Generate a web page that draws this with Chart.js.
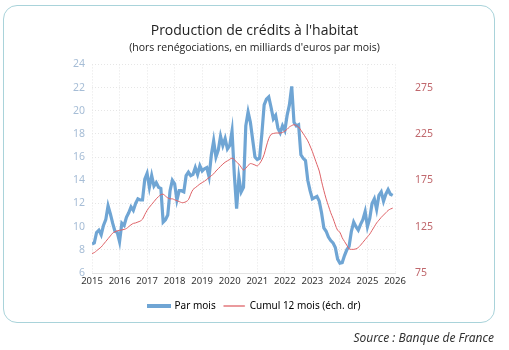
<!DOCTYPE html>
<html><head><meta charset="utf-8">
<script src="https://cdn.jsdelivr.net/npm/chart.js@4/dist/chart.umd.min.js"></script>
<style>
html,body{margin:0;padding:0;background:#fff;width:509px;height:350px;overflow:hidden;}
#card{position:absolute;left:3px;top:5px;width:490px;height:316px;border:1.5px solid #a9d3da;border-radius:14px;}
#wrap{position:absolute;left:0;top:0;width:509px;height:350px;}
#src{position:absolute;right:15px;top:329px;font-family:"Noto Sans",sans-serif;font-style:italic;font-size:12px;color:#333;}
</style></head><body>
<div id="card"></div>
<div id="wrap"><canvas id="c" width="509" height="350"></canvas></div>
<div id="src">Source : Banque de France</div>
<script>
const startYear = 2015;
const yearTicks = [2015,2016,2017,2018,2019,2020,2021,2022,2023,2024,2025,2026];
// Monthly production (bn EUR), Jan 2015 - Dec 2025
const parMois = [
 8.5, 8.6, 9.5, 9.7, 9.3, 10.1, 10.6, 11.8, 11.1, 10.3, 9.6, 9.5,
 8.7, 10.3, 10.1, 10.8, 11.2, 11.7, 11.4, 12.0, 12.4, 12.3, 12.3, 14.1,
 14.6, 13.4, 14.4, 13.5, 13.8, 13.4, 13.3, 10.4, 10.6, 11.0, 13.1, 14.0,
 13.7, 12.3, 13.1, 13.1, 13.0, 14.4, 14.7, 14.4, 14.5, 15.1, 14.5, 15.25,
 14.8, 15.0, 15.1, 14.3, 16.2, 17.4, 16.0, 16.6, 17.8, 17.0, 17.6, 16.7,
 17.0, 18.25, 14.5, 11.55, 14.25, 13.0, 13.4, 18.7, 19.9, 19.0, 17.5, 16.0,
 15.8, 15.9, 18.0, 20.5, 21.0, 21.2, 20.3, 19.3, 19.6, 18.5, 18.1, 18.7,
 18.3, 19.6, 20.5, 22.1, 19.0, 18.7, 18.8, 16.2, 15.9, 15.7, 14.0, 13.1,
 12.4, 12.5, 12.6, 12.2, 11.2, 9.9, 9.6, 9.1, 8.8, 8.6, 8.2, 7.2,
 6.85, 6.9, 7.5, 8.0, 8.3, 9.6, 10.4, 10.0, 9.7, 10.2, 10.6, 11.3,
 10.0, 10.7, 12.0, 12.4, 11.5, 12.7, 13.0, 12.2, 12.8, 13.2, 12.8, 12.7
];
// 12-month cumulative (bn EUR, right axis)
const cumul12 = [
 96, 97, 99, 101, 103, 106, 109, 112, 115, 118, 119.5, 120.5,
 121, 121.5, 122, 123, 125, 127, 128.5, 129, 130, 131, 133, 138,
 142.5, 146, 149, 152, 155, 157.5, 159.5, 160, 158, 156, 155, 155,
 154, 153, 152, 151, 151, 152, 154, 160, 165, 167, 169, 171,
 172.5, 174, 176, 178, 180, 182, 185, 187.5, 190, 192.5, 194.5, 196,
 197.5, 199, 197.5, 194.5, 192.5, 189, 186, 188, 191, 193, 192.5, 191.5,
 190.5, 193, 197, 203, 212, 220, 224.5, 225.5, 226, 226, 226, 226.5,
 228, 230, 232.5, 234, 235, 234, 232.5, 229, 225.5, 221.5, 217.5, 212,
 206, 199, 192, 185, 174, 164, 155, 147.5, 140, 134, 127, 121,
 119, 113, 109, 105, 101, 100.5, 100.5, 101, 102.5, 105, 108, 111,
 114, 117, 121, 125, 129, 132, 135, 137.5, 140, 142.5, 144, 145
];
const leftTicks = [6,8,10,12,14,16,18,20,22,24];
const rightTicks = [75,125,175,225,275];

const toXY = arr => arr.map((v,i)=>({x:startYear + i/12, y:v}));
const tickFont = {family:"Noto Sans", size:10.5};

new Chart(document.getElementById('c'), {
  type:'line',
  data:{datasets:[
    {label:'Par mois', data:toXY(parMois), yAxisID:'y', borderColor:'#6fa5d4', borderWidth:3.2, pointRadius:0, tension:0, order:1},
    {label:'Cumul 12 mois (éch. dr)', data:toXY(cumul12), yAxisID:'y2', borderColor:'#de6267', borderWidth:1, pointRadius:0, tension:0.3, order:0}
  ]},
  options:{
    responsive:false, animation:false,
    layout:{padding:{top:0,bottom:29,left:0,right:0}},
    plugins:{
      title:{display:true, text:"Production de crédits à l'habitat", color:'#222', font:{family:"Open Sans", size:14, weight:'normal'}, padding:{top:23,bottom:2}},
      subtitle:{display:true, text:"(hors renégociations, en milliards d'euros par mois)", color:'#222', font:{family:"Open Sans", size:10.5}, padding:{top:0,bottom:10}},
      legend:{position:'bottom', labels:{
        boxWidth:21, boxHeight:1, padding:8, color:'#333', font:{family:"Noto Sans", size:10},
        generateLabels: chart => chart.data.datasets.map((d,i)=>({text:d.label, fillStyle:d.borderColor, strokeStyle:d.borderColor, lineWidth:i===0?3:0.3, datasetIndex:i, hidden:false}))
      }},
      tooltip:{enabled:false}
    },
    scales:{
      x:{type:'linear', min:2015, max:2026,
        afterBuildTicks: s => { s.ticks = yearTicks.map(v=>({value:v})); },
        ticks:{callback:v=>String(v), color:'#333', font:{family:"Noto Sans", size:9.5}, padding:3, maxRotation:0},
        grid:{color:'#e6e6e6', tickLength:0, drawTicks:false},
        border:{display:true, color:'#e3e3e3', dash:[1,2]},
        afterFit: s => { s.height = 20; }
      },
      y:{position:'left', min:6, max:24,
        afterBuildTicks: s => { s.ticks = leftTicks.map(v=>({value:v})); },
        ticks:{color:'#a6bdd6', font:tickFont, padding:7},
        grid:{color:'#e6e6e6', drawTicks:false},
        border:{display:false, dash:[1,2]},
        afterFit: s => { s.width = 92; }
      },
      y2:{position:'right', min:75, max:300,
        afterBuildTicks: s => { s.ticks = rightTicks.map(v=>({value:v})); },
        ticks:{color:'#c0686d', font:tickFont, padding:20},
        grid:{display:false, drawTicks:false},
        border:{display:false},
        afterFit: s => { s.width = 114; }
      }
    }
  }
});
</script>
</body></html>
